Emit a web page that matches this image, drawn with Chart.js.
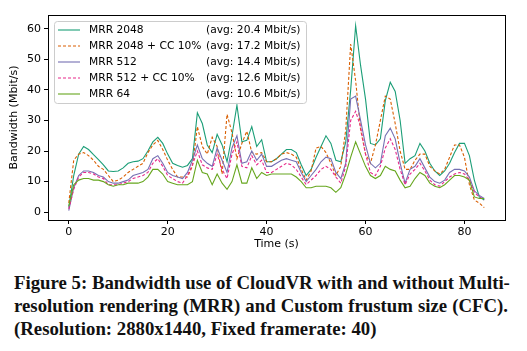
<!DOCTYPE html>
<html>
<head>
<meta charset="utf-8">
<script src="https://cdn.jsdelivr.net/npm/chart.js@4/dist/chart.umd.min.js"></script>
<style>
  body { margin: 0; background: #fff; width: 527px; height: 351px; overflow: hidden; position: relative; }
  #wrap { position: absolute; left: 0; top: 0; width: 527px; height: 252px; }
  .cap { position: absolute; left: 14px; width: 494px; font-family: "Liberation Serif", serif; font-weight: bold; font-size: 18.8px; color: #111; white-space: nowrap; }
  .just { text-align: justify; text-align-last: justify; }
</style>
</head>
<body>
<div id="wrap"><canvas id="myChart"></canvas></div>
<div class="cap just" style="top:272px">Figure 5: Bandwidth use of CloudVR with and without Multi-</div>
<div class="cap just" style="top:295px">resolution rendering (MRR) and Custom frustum size (CFC).</div>
<div class="cap" style="top:318px">(Resolution: 2880x1440, Fixed framerate: 40)</div>
<script>
// time in seconds, one sample per second
const times = [0,1,2,3,4,5,6,7,8,9,10,11,12,13,14,15,16,17,18,19,20,21,22,23,24,25,26,27,28,29,
  30,31,32,33,34,35,36,37,38,39,40,41,42,43,44,45,46,47,48,49,50,51,52,53,54,55,56,57,58,59,
  60,61,62,63,64,65,66,67,68,69,70,71,72,73,74,75,76,77,78,79,80,81,82,83,84];

const labels = ["MRR 2048", "MRR 2048 + CC 10%", "MRR 512", "MRR 512 + CC 10%", "MRR 64"];
const averages = ["(avg: 20.4 Mbit/s)", "(avg: 17.2 Mbit/s)", "(avg: 14.4 Mbit/s)", "(avg: 12.6 Mbit/s)", "(avg: 10.6 Mbit/s)"];
const colors = ["#1b9e77", "#d95f02", "#7570b3", "#e7298a", "#66a61e"];
const dashed = [false, true, false, true, false];

// bandwidth in Mbit/s
const mrr2048 = [1.5,12,19,21.5,20.5,18.8,17.2,15.5,13.5,13.3,13.5,14.5,16,16.5,16.7,17.5,20,23,24.5,22.5,
  19,16,15.3,14.7,15.3,17.5,32.5,29,22,19.5,25.5,22,16.5,25,35,23,23.5,28,21.5,23.7,
  16.5,16.5,17.5,19,20.5,20.5,19.5,15.5,12,14,18,21.5,25,22.5,17,16.5,23,40,61,48,
  37,22.5,22,24,36.5,42.5,39.5,30,16,17.5,18.5,22.5,20,16,13.5,12,13.5,16,19.5,22.5,
  22.5,18.5,10.5,5,4];
const mrr2048cc = [3,17,19,19.5,18.5,17,15,14,12,10,10.5,11.5,13,14,15,16,19.5,22,23.5,20.5,
  17,14,11.5,11.5,11.5,15,28,21.5,19,24.5,21.5,12.5,32,26,17.5,22.5,26.5,19.5,19,19.5,
  16.5,16.5,17.5,19,19.5,19,18,14,10.5,13.5,21,21.5,19.5,16,12,15,27,55,43,27,
  19,16,22,30,38,37,29,20,14,14,17,19,19,15,13.5,12.5,14,18,22,22,
  18,9,4,3,1.5];
const mrr512 = [0.5,8,12,13.5,13.5,13,12,11.5,10,9.5,9.5,10,10.5,12,12.5,13,14,17.5,18.5,16,
  13,12,11.5,11,13,17,22,17.5,16,15,21,17,13,21,25,16,16.5,20,17,19,
  15,15,16,17,17.5,17,16.5,13,10,12,14,16.5,18,17.5,13,11,16,37,38,30,
  22,16,14.5,16,25,27.5,24,16,9.5,14,15,17.5,14.5,11.5,10,9.5,10.5,13,14,14,
  13.5,11.5,7,5.5,4.5];
const mrr512cc = [1,7.5,11.5,13,13,12.5,11.5,11,9,9,9,9.5,10,11,11.5,12,13,16,17.5,15,
  12,11,10,9.5,12,15.5,20,15.5,14.5,14,19,14,11,19,23,15,14.5,18.5,15.5,17,
  13,13,14,15,16,15.5,14,11.5,9,10.5,12,14,15,14,11.5,9.5,15,30,33,28,
  19,13,12,15,21,24,20.5,14,9,12.5,14,16,13.5,10.5,9,8.5,10,11.5,12.5,13,
  12.5,10.5,6.5,5,4];
const mrr64 = [2,9,10.5,11,11,10.5,10.5,10,9,8.5,9,9,9.5,9.5,9.5,10,11.5,14,14,12.5,
  10,9.5,9,9,9,10,17,13,12.5,9,12.5,9.5,7.5,10,15.5,9.5,9.5,14.5,11,13,
  12,12.5,12.5,12.5,12.5,12.5,11.5,10,8,8,8.5,8.5,8.5,8,6.5,8,12.5,18,23,19,
  15,12,11,12,15,14,13.5,10.5,8,8.5,11,13,12,9.5,8.5,8,9,10.5,12,12,
  11.5,10.5,5,4.5,4.5];
const series = [mrr2048, mrr2048cc, mrr512, mrr512cc, mrr64];

const xTicks = [0, 20, 40, 60, 80];
const yTicks = [0, 10, 20, 30, 40, 50, 60];

const tickFont = { family: "DejaVu Sans", size: 11 };

// matplotlib-style frame around the plot area
const framePlugin = {
  id: 'frame',
  afterDraw(chart) {
    const a = chart.chartArea, ctx = chart.ctx;
    ctx.save();
    ctx.strokeStyle = '#000';
    ctx.lineWidth = 1;
    ctx.strokeRect(Math.round(a.left) + 0.5, Math.round(a.top) + 0.5, Math.round(a.right - a.left), Math.round(a.bottom - a.top));
    ctx.restore();
  }
};

// legend with a separate column for the averages
const legendPlugin = {
  id: 'avgLegend',
  afterDraw(chart) {
    const a = chart.chartArea, ctx = chart.ctx;
    const x0 = a.left + 6, y0 = a.top + 6, w = 252, h = 82;
    ctx.save();
    ctx.fillStyle = 'rgba(255,255,255,0.8)';
    ctx.strokeStyle = '#cccccc';
    ctx.lineWidth = 1;
    ctx.beginPath();
    ctx.roundRect(x0 + 0.5, y0 + 0.5, w, h, 3);
    ctx.fill();
    ctx.stroke();
    ctx.font = '10.7px "DejaVu Sans"';
    ctx.textBaseline = 'middle';
    ctx.fillStyle = '#000';
    for (let i = 0; i < labels.length; i++) {
      const y = y0 + 9 + i * 16;
      ctx.strokeStyle = colors[i];
      ctx.lineWidth = 1.1;
      ctx.setLineDash(dashed[i] ? [3, 2] : []);
      ctx.beginPath();
      ctx.moveTo(x0 + 4, y);
      ctx.lineTo(x0 + 26, y);
      ctx.stroke();
      ctx.setLineDash([]);
      ctx.fillText(labels[i], x0 + 35, y);
      ctx.fillText(averages[i], x0 + 152, y);
    }
    ctx.restore();
  }
};

const ctx = document.getElementById('myChart').getContext('2d');
const myChart = new Chart(ctx, {
  type: 'line',
  data: {
    datasets: series.map((vals, i) => ({
      label: labels[i],
      data: vals.map((v, j) => ({ x: times[j], y: v })),
      borderColor: colors[i],
      backgroundColor: colors[i],
      borderWidth: 1.1,
      borderDash: dashed[i] ? [3, 2] : [],
      pointRadius: 0,
      tension: 0,
      fill: false,
      order: labels.length - i
    }))
  },
  options: {
    responsive: true,
    maintainAspectRatio: false,
    animation: false,
    devicePixelRatio: 1,
    layout: { padding: { left: 0, right: 22, top: 15, bottom: 0 } },
    plugins: { legend: { display: false }, tooltip: { enabled: false } },
    scales: {
      x: {
        type: 'linear',
        min: -4.2,
        max: 88.2,
        afterBuildTicks: s => { s.ticks = xTicks.map(v => ({ value: v })); },
        afterFit: s => { s.height = 32; },
        ticks: { color: '#000', font: tickFont, padding: 2, maxRotation: 0 },
        grid: { drawOnChartArea: false, drawTicks: true, tickLength: 4, color: '#000' },
        border: { display: false },
        title: { display: true, text: 'Time (s)', color: '#000', font: tickFont, padding: { top: 0, bottom: 1 } }
      },
      y: {
        min: -2.55,
        max: 64.5,
        afterBuildTicks: s => { s.ticks = yTicks.map(v => ({ value: v })); },
        afterFit: s => { s.width = 48; },
        ticks: { color: '#000', font: tickFont, padding: 3 },
        grid: { drawOnChartArea: false, drawTicks: true, tickLength: 4, color: '#000' },
        border: { display: false },
        title: { display: true, text: 'Bandwidth (Mbit/s)', color: '#000', font: tickFont, padding: { top: 8, bottom: 0 } }
      }
    }
  },
  plugins: [framePlugin, legendPlugin]
});
</script>
</body>
</html>
